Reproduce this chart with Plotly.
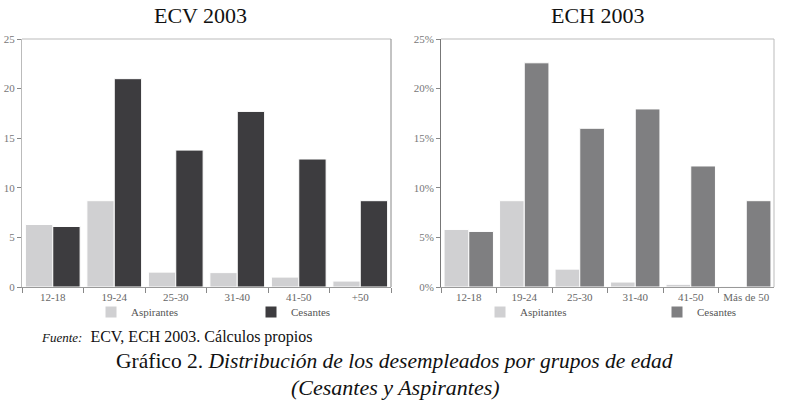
import plotly.graph_objects as go

ecv_categories = ["12-18", "19-24", "25-30", "31-40", "41-50", "+50"]
ech_categories = ["12-18", "19-24", "25-30", "31-40", "41-50", "Más de 50"]

ecv_aspirantes = [6.3, 8.7, 1.5, 1.45, 1.0, 0.6]
ecv_cesantes = [6.1, 21.0, 13.8, 17.7, 12.9, 8.7]

ech_aspirantes = [5.8, 8.7, 1.8, 0.5, 0.27, 0.07]
ech_cesantes = [5.6, 22.6, 16.0, 17.95, 12.2, 8.7]

W, H = 789, 409
FONT = "Liberation Serif"
LIGHT = "#d0d0d2"
DARK1 = "#3d3c3f"
DARK2 = "#7f7f81"

def px(x):
    return x / W

def py(y):
    return 1 - y / H

fig = go.Figure()
fig.add_trace(go.Bar(x=ecv_categories, y=ecv_aspirantes, name="Aspirantes",
                     marker=dict(color=LIGHT, line=dict(color="white", width=1)),
                     xaxis="x", yaxis="y", legend="legend"))
fig.add_trace(go.Bar(x=ecv_categories, y=ecv_cesantes, name="Cesantes",
                     marker=dict(color=DARK1, line=dict(color="white", width=1)),
                     xaxis="x", yaxis="y", legend="legend"))
fig.add_trace(go.Bar(x=ech_categories, y=ech_aspirantes, name="Aspitantes",
                     marker=dict(color=LIGHT, line=dict(color="white", width=1)),
                     xaxis="x2", yaxis="y2", legend="legend2"))
fig.add_trace(go.Bar(x=ech_categories, y=ech_cesantes, name="Cesantes",
                     marker=dict(color=DARK2, line=dict(color="white", width=1)),
                     xaxis="x2", yaxis="y2", legend="legend2"))

ydom = [py(287), py(39)]
xaxis_common = dict(showgrid=False, ticks="outside", tickson="boundaries", ticklen=5,
                    tickcolor="#888", showline=True, linecolor="#999", linewidth=1,
                    tickangle=0, automargin=False,
                    tickfont=dict(family=FONT, size=11, color="#666"), fixedrange=True)
yaxis_common = dict(showgrid=False, zeroline=False, range=[0, 25], dtick=5, ticks="outside",
                    ticklen=4, tickcolor="#888", showline=True, linewidth=1, automargin=False,
                    tickfont=dict(family=FONT, size=11, color="#777"), domain=ydom,
                    fixedrange=True)

fig.update_layout(
    width=W, height=H, margin=dict(l=0, r=0, t=0, b=0, autoexpand=False),
    font=dict(family=FONT),
    paper_bgcolor="white", plot_bgcolor="white",
    barmode="group", bargap=0.11, bargroupgap=0,
    xaxis=dict(domain=[px(22), px(391)], anchor="y", **xaxis_common),
    yaxis=dict(anchor="x", linecolor="#bbb", **yaxis_common),
    xaxis2=dict(domain=[px(441), px(774)], anchor="y2", **xaxis_common),
    yaxis2=dict(anchor="x2", linecolor="#777", ticksuffix="%", **yaxis_common),
    legend=dict(orientation="h", x=px(91), y=py(312), xanchor="left", yanchor="middle",
                entrywidth=115, font=dict(family=FONT, size=11, color="#555"),
                bgcolor="rgba(0,0,0,0)", itemclick=False),
    legend2=dict(orientation="h", x=px(480), y=py(312), xanchor="left", yanchor="middle",
                 entrywidth=132, font=dict(family=FONT, size=11, color="#555"),
                 bgcolor="rgba(0,0,0,0)", itemclick=False),
    showlegend=True,
)

shapes = [
    dict(type="line", xref="x domain", yref="y domain", x0=0, x1=1, y0=1, y1=1,
         line=dict(color="#bbb", width=1)),
    dict(type="line", xref="x domain", yref="y domain", x0=1, x1=1, y0=0, y1=1,
         line=dict(color="#888", width=1)),
    dict(type="line", xref="x2 domain", yref="y2 domain", x0=0, x1=1, y0=1, y1=1,
         line=dict(color="#bbb", width=1)),
    dict(type="line", xref="x2 domain", yref="y2 domain", x0=1, x1=1, y0=0, y1=1,
         line=dict(color="#bbb", width=1)),
]
fig.update_layout(shapes=shapes)

annotations = [
    dict(text="ECV 2003", x=px(200), y=py(16), xref="paper", yref="paper",
         showarrow=False, font=dict(family=FONT, size=22, color="#111"),
         xanchor="center", yanchor="middle"),
    dict(text="ECH 2003", x=px(598), y=py(16), xref="paper", yref="paper",
         showarrow=False, font=dict(family=FONT, size=22, color="#111"),
         xanchor="center", yanchor="middle"),
    dict(text="<span style='font-size:13px'><i>Fuente:</i></span>  ECV, ECH 2003. Cálculos propios",
         x=px(39), y=py(337), xref="paper", yref="paper", showarrow=False,
         font=dict(family=FONT, size=16, color="#111"), xanchor="left", yanchor="middle"),
    dict(text="Gráfico 2. <i>Distribución de los desempleados por grupos de edad</i>",
         x=px(394), y=py(361), xref="paper", yref="paper", showarrow=False,
         font=dict(family=FONT, size=21.5, color="#111"), xanchor="center", yanchor="middle"),
    dict(text="<i>(Cesantes y Aspirantes)</i>",
         x=px(395), y=py(387), xref="paper", yref="paper", showarrow=False,
         font=dict(family=FONT, size=22, color="#111"), xanchor="center", yanchor="middle"),
]
fig.update_layout(annotations=annotations)

fig.write_html("out.html", config={"displayModeBar": False},
               post_script="document.body.style.margin='0';document.body.style.overflow='hidden';")
